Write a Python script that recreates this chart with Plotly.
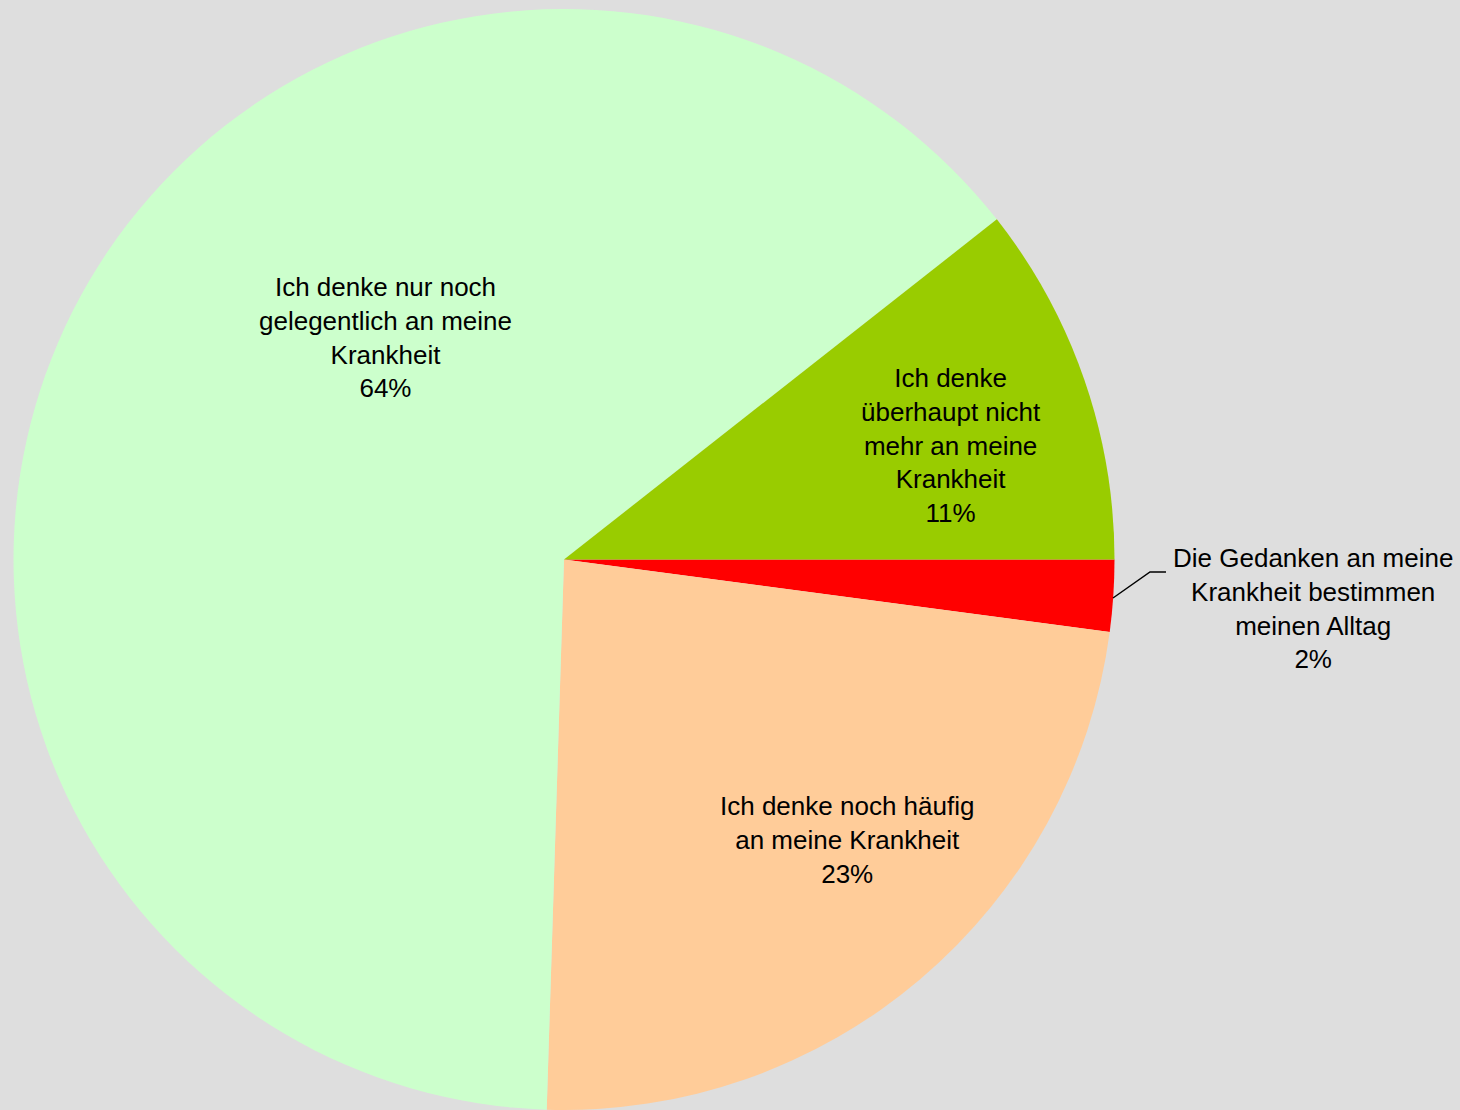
import plotly.graph_objects as go

labels = [
    "Die Gedanken an meine<br>Krankheit bestimmen<br>meinen Alltag",
    "Ich denke noch häufig<br>an meine Krankheit",
    "Ich denke nur noch<br>gelegentlich an meine<br>Krankheit",
    "Ich denke<br>überhaupt nicht<br>mehr an meine<br>Krankheit",
]
values = [2.1, 23.4, 63.9, 10.6]
colors = ["#FF0000", "#FFCC99", "#CCFFCC", "#99CC00"]

W, H = 1460, 1110
# label centres (pixels) as placed in the original chart
label_px = [(1313, 609), (847, 840), (385, 337), (951, 445)]
# leader line for the small outside label (pixels)
leader_px = [(1113, 598), (1150, 572), (1166, 572)]

total = sum(values)
fig = go.Figure(
    go.Pie(
        labels=labels,
        values=values,
        sort=False,
        direction="clockwise",
        rotation=90,
        marker=dict(colors=colors, line=dict(width=0)),
        textinfo="none",
        showlegend=False,
        domain=dict(x=[13.5 / W, 1114.5 / W], y=[0.0, 1 - 9 / H]),
        hoverinfo="label+percent",
    )
)

font = dict(family="Liberation Sans, Arial, sans-serif", size=26, color="#000000")
for i, (lab, v) in enumerate(zip(labels, values)):
    txt = f"{lab}<br>{round(100 * v / total)}%"
    px, py = label_px[i]
    fig.add_annotation(
        x=px / W, y=1 - py / H, xref="paper", yref="paper",
        text=txt, showarrow=False, font=font, align="center",
        xanchor="center", yanchor="middle",
    )

path = " ".join(
    ("M" if k == 0 else "L") + f" {x / W:.5f} {1 - y / H:.5f}"
    for k, (x, y) in enumerate(leader_px)
)
fig.add_shape(
    type="path", path=path, xref="paper", yref="paper",
    line=dict(color="#000000", width=1.5),
)

fig.update_layout(
    width=W,
    height=H,
    margin=dict(l=0, r=0, t=0, b=0),
    paper_bgcolor="#DEDEDE",
    plot_bgcolor="#DEDEDE",
)

fig.write_html(
    "out.html",
    config={"displayModeBar": False},
    post_script="document.body.style.margin='0';document.body.style.overflow='hidden';",
)
